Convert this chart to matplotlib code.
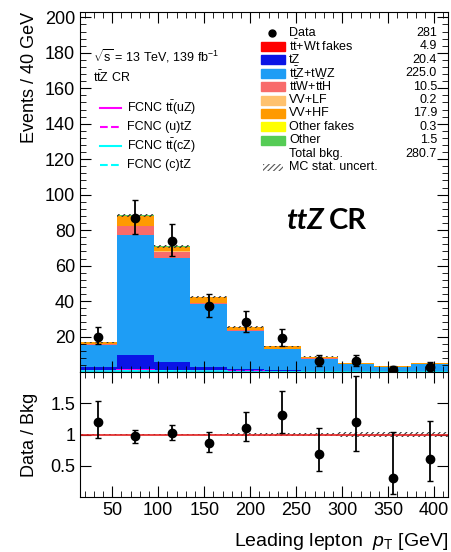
import numpy as np
import matplotlib
matplotlib.use("Agg")
import matplotlib.pyplot as plt
from matplotlib.lines import Line2D
from matplotlib.patches import Rectangle

plt.rcParams["font.family"] = ["Liberation Sans", "DejaVu Sans"]
plt.rcParams["mathtext.fontset"] = "custom"
plt.rcParams["mathtext.rm"] = "Liberation Sans"
plt.rcParams["mathtext.it"] = "Liberation Sans:italic"
plt.rcParams["hatch.linewidth"] = 0.8

# binning (leading lepton pT, 40 GeV bins)
edges = [15, 55, 95, 135, 175, 215, 255, 295, 335, 375, 415]
centers = [35, 75, 115, 155, 195, 235, 275, 315, 355, 395]

# background components, bottom -> top of the stack
fakes_ttwt = [0.6, 1.5, 1.0, 0.6, 0.4, 0.3, 0.2, 0.1, 0.1, 0.1]
tz = [2.2, 8.0, 4.5, 2.3, 1.2, 0.8, 0.5, 0.4, 0.2, 0.3]
ttz_twz = [12.5, 67.7, 58.9, 35.5, 21.6, 11.6, 6.9, 3.8, 2.5, 4.0]
ttw_tth = [0.7, 5.0, 3.5, 0.6, 0.3, 0.2, 0.1, 0.05, 0.05, 0.0]
vv_lf = [0.0, 0.1, 0.05, 0.05, 0.0, 0.0, 0.0, 0.0, 0.0, 0.0]
vv_hf = [0.9, 5.5, 2.7, 3.2, 1.7, 1.5, 0.8, 0.6, 0.4, 0.6]
other_fakes = [0.05, 0.1, 0.05, 0.05, 0.05, 0.0, 0.0, 0.0, 0.0, 0.0]
other = [0.1, 0.4, 0.3, 0.2, 0.2, 0.1, 0.1, 0.05, 0.03, 0.02]

total_bkg = [16.5, 88.3, 71.0, 42.5, 25.5, 14.5, 8.6, 5.0, 3.3, 5.0]
mc_rel_unc = [0.015, 0.012, 0.012, 0.015, 0.02, 0.025, 0.03, 0.035, 0.04, 0.035]

# FCNC signal shapes (overlaid)
fcnc_tt_uz = [0.3, 0.9, 0.5, 0.3, 0.2, 0.1, 0.1, 0.05, 0.05, 0.05]
fcnc_u_tz = [0.6, 1.4, 0.7, 0.5, 0.3, 0.2, 0.1, 0.1, 0.05, 0.05]
fcnc_tt_cz = [0.3, 0.8, 0.5, 0.3, 0.2, 0.1, 0.1, 0.05, 0.05, 0.05]
fcnc_c_tz = [0.2, 0.5, 0.3, 0.2, 0.1, 0.1, 0.05, 0.05, 0.02, 0.02]

# data
data = [20, 87, 74, 37, 28, 19, 6, 6, 1, 3]
data_up = [5.5, 10.0, 9.6, 7.1, 6.4, 5.5, 3.5, 3.5, 2.3, 2.9]
data_dn = [4.4, 9.3, 8.6, 6.0, 5.3, 4.3, 2.4, 2.4, 0.8, 1.6]

# ratio panel
ratio = [1.20, 0.98, 1.03, 0.87, 1.11, 1.32, 0.69, 1.20, 0.31, 0.61]
ratio_hi = [1.53, 1.08, 1.16, 1.04, 1.36, 1.69, 1.11, 1.93, 1.04, 1.21]
ratio_lo = [0.94, 0.87, 0.91, 0.72, 0.90, 1.02, 0.42, 0.73, 0.05, 0.26]

names = ["$\\mathrm{t\\bar{t}}$+Wt fakes", "tZ", "$\\mathrm{t\\bar{t}}$Z+tWZ",
         "$\\mathrm{t\\bar{t}}$W+$\\mathrm{t\\bar{t}}$H", "VV+LF", "VV+HF",
         "Other fakes", "Other"]
yields = ["4.9", "20.4", "225.0", "10.5", "0.2", "17.9", "0.3", "1.5"]
colors = ["#ff0000", "#0a14e6", "#1e9df5", "#f86b6b", "#ffc26e", "#ff9a00",
          "#ffff00", "#55cc55"]

W, H = 451, 552
fig = plt.figure(figsize=(W / 100, H / 100), dpi=100)
L, R = 80 / W, 448 / W
ax = fig.add_axes([L, 1 - 372 / H, R - L, (372 - 12) / H])
rax = fig.add_axes([L, 1 - 497 / H, R - L, (497 - 372) / H], sharex=ax)

comps = [fakes_ttwt, tz, ttz_twz, ttw_tth, vv_lf, vv_hf, other_fakes, other]
ax.hist([centers] * len(comps), bins=edges, weights=comps, stacked=True,
        histtype="stepfilled", color=colors, linewidth=0)

tot = np.array(total_bkg)
unc = tot * np.array(mc_rel_unc)
ax.stairs(tot + unc, edges, baseline=tot - unc, fill=True, facecolor="none",
          edgecolor="#333333", hatch="//////", linewidth=0)

ax.stairs(fcnc_tt_uz, edges, color="#ff00ff", lw=1.2)
ax.stairs(fcnc_u_tz, edges, color="#ff00ff", lw=1.2, ls="--")
ax.stairs(fcnc_tt_cz, edges, color="#00ffff", lw=1.2)
ax.stairs(fcnc_c_tz, edges, color="#00ffff", lw=1.2, ls="--")

ax.errorbar(centers, data, yerr=[data_dn, data_up], fmt="o", color="black",
            ms=6, capsize=2, elinewidth=1.3, capthick=1)

ax.set_xlim(15, 415)
ax.set_ylim(0, 203)
ax.set_yticks(range(20, 201, 20))
ax.set_yticks(range(0, 204, 4), minor=True)
ax.set_xticks(range(50, 401, 50))
ax.set_xticks(range(20, 415, 10), minor=True)
ax.set_ylabel("Events / 40 GeV", fontsize=13, loc="top", labelpad=5)

for a in (ax, rax):
    a.tick_params(which="both", direction="in", top=True, right=True, labelsize=13)
    a.tick_params(which="major", length=8)
    a.tick_params(which="minor", length=4)
plt.setp(ax.get_xticklabels(), visible=False)

# ratio panel
rnom = np.ones(len(mc_rel_unc))
runc = np.array(mc_rel_unc)
rax.stairs(rnom + runc, edges, baseline=rnom - runc, fill=True, facecolor="none",
           edgecolor="#333333", hatch="//////", linewidth=0)
rax.axhline(1, color="#e02020", lw=1.2)
r = np.array(ratio)
rax.errorbar(centers, ratio, yerr=[r - np.array(ratio_lo), np.array(ratio_hi) - r],
             fmt="o", color="black", ms=6, capsize=2, elinewidth=1.3, capthick=1)
rax.set_ylim(0, 2)
rax.set_yticks([0.5, 1, 1.5])
rax.set_yticklabels(["0.5", "1", "1.5"])
rax.set_ylabel("Data / Bkg", fontsize=13, labelpad=9)
fig.text(448 / W, 1 - 541 / H, "Leading lepton  $p_{\\mathrm{T}}$ [GeV]",
         fontsize=14, ha="right", va="center")

# left annotations / FCNC legend
def fx(x):
    return x / W

def fy(y):
    return 1 - y / H

fig.text(fx(93), fy(56), "$\\sqrt{\\mathrm{s}}$ = 13 TeV, 139 fb$^{-1}$", fontsize=9, va="center")
fig.text(fx(93), fy(77), "$\\mathrm{t\\bar{t}}$Z CR", fontsize=9, va="center")
fcnc_labels = ["FCNC $\\mathrm{t\\bar{t}}$(uZ)", "FCNC (u)tZ",
               "FCNC $\\mathrm{t\\bar{t}}$(cZ)", "FCNC (c)tZ"]
fcnc_styles = [("#ff00ff", "-"), ("#ff00ff", "--"), ("#00ffff", "-"), ("#00ffff", "--")]
for i, (lab, (c, ls)) in enumerate(zip(fcnc_labels, fcnc_styles)):
    y = 108 + i * 19
    fig.add_artist(Line2D([fx(100), fx(121)], [fy(y), fy(y)], color=c, ls=ls, lw=1.5))
    fig.text(fx(127), fy(y), lab, fontsize=9, va="center")

# right legend
ly0, dy = 33, 13.4
fig.add_artist(Line2D([fx(272)], [fy(ly0)], marker="o", color="black", ms=5))
fig.text(fx(289), fy(ly0), "Data", fontsize=9, va="center")
fig.text(fx(437), fy(ly0), "281", fontsize=9, va="center", ha="right")
for i, (n, v, c) in enumerate(zip(names, yields, colors)):
    y = ly0 + (i + 1) * dy
    fig.add_artist(Rectangle((fx(261), fy(y + 4.5)), fx(24), 9 / H, color=c,
                             transform=fig.transFigure))
    fig.text(fx(289), fy(y), n, fontsize=9, va="center")
    fig.text(fx(437), fy(y), v, fontsize=9, va="center", ha="right")
y = ly0 + 9 * dy
fig.text(fx(289), fy(y), "Total bkg.", fontsize=9, va="center")
fig.text(fx(437), fy(y), "280.7", fontsize=9, va="center", ha="right")
y = ly0 + 10 * dy
fig.add_artist(Rectangle((fx(263), fy(y + 3.5)), fx(20), 7 / H, facecolor="none",
                         edgecolor="#555555", hatch="//////", lw=0,
                         transform=fig.transFigure))
fig.text(fx(289), fy(y), "MC stat. uncert.", fontsize=9, va="center")

# big region label
fig.text(fx(286), fy(221), "ttZ", fontsize=21, fontweight="bold", style="italic",
         family=["Lato", "DejaVu Sans"], va="center")
fig.text(fx(329), fy(221), "CR", fontsize=21, fontweight="bold",
         family=["Lato", "DejaVu Sans"], va="center")

fig.savefig("out.png", dpi=100)
